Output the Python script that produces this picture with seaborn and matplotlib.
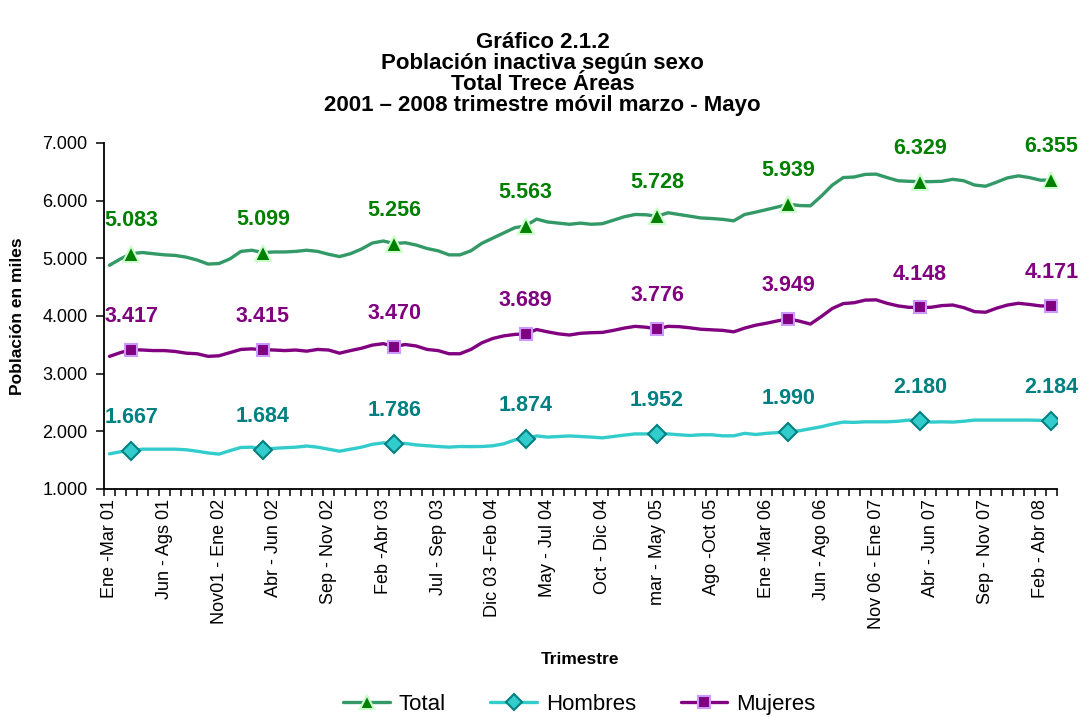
import matplotlib
matplotlib.use("Agg")
import matplotlib.pyplot as plt
from matplotlib.lines import Line2D
import numpy as np
import seaborn as sns

# Moving quarters: Ene-Mar 01 ... Mar-May 08 (87 points), values in thousands
total = [4880, 4990, 5083, 5100, 5080, 5060, 5050, 5020, 4970, 4900,
         4910, 4990, 5120, 5140, 5099, 5110, 5110, 5120, 5140, 5120,
         5070, 5030, 5080, 5160, 5265, 5300, 5256, 5270, 5230, 5170,
         5130, 5060, 5060, 5130, 5260, 5350, 5440, 5530, 5563, 5680,
         5630, 5610, 5590, 5610, 5590, 5600, 5660, 5720, 5760, 5755,
         5728, 5790, 5760, 5730, 5700, 5690, 5675, 5650, 5760, 5800,
         5845, 5890, 5939, 5915, 5910, 6080, 6270, 6400, 6410, 6455,
         6460, 6400, 6345, 6335, 6329, 6330, 6335, 6370, 6345, 6270,
         6250, 6320, 6395, 6430, 6400, 6355, 6355]

hombres = [1610, 1645, 1667, 1690, 1690, 1690, 1690, 1680, 1655, 1625,
           1605, 1665, 1720, 1725, 1684, 1705, 1715, 1725, 1745, 1725,
           1690, 1655, 1690, 1725, 1775, 1800, 1786, 1790, 1765, 1750,
           1737, 1726, 1737, 1735, 1737, 1749, 1783, 1850, 1874, 1920,
           1900, 1910, 1920, 1910, 1900, 1887, 1910, 1934, 1955, 1955,
           1952, 1955, 1940, 1928, 1940, 1940, 1922, 1922, 1965, 1945,
           1965, 1978, 1990, 2010, 2045, 2080, 2125, 2160, 2155, 2165,
           2165, 2165, 2175, 2195, 2180, 2160, 2165, 2160, 2175, 2195,
           2195, 2195, 2195, 2195, 2195, 2190, 2184]

mujeres = [3300, 3365, 3417, 3410, 3400, 3400, 3385, 3355, 3345, 3300,
           3310, 3365, 3420, 3430, 3415, 3410, 3400, 3410, 3390, 3420,
           3410, 3355, 3400, 3440, 3495, 3520, 3470, 3505, 3480, 3420,
           3400, 3345, 3345, 3420, 3535, 3610, 3655, 3680, 3689, 3765,
           3725, 3690, 3670, 3700, 3710, 3715, 3750, 3790, 3820, 3805,
           3776, 3820, 3815, 3795, 3770, 3760, 3750, 3725, 3790, 3840,
           3875, 3915, 3949, 3910, 3860, 3990, 4130, 4215, 4230, 4275,
           4280, 4220, 4175, 4150, 4148, 4150, 4180, 4190, 4145, 4075,
           4065, 4135, 4190, 4220, 4200, 4175, 4171]

# Mar-May of each year carries a marker and a data label
marker_idx = [2, 14, 26, 38, 50, 62, 74, 86]

tick_labels = ["Ene -Mar 01", "Jun - Ags 01", "Nov01 - Ene 02", "Abr - Jun 02",
               "Sep - Nov 02", "Feb -Abr 03", "Jul - Sep 03", "Dic 03 -Feb 04",
               "May - Jul 04", "Oct - Dic 04", "mar - May 05", "Ago -Oct 05",
               "Ene -Mar 06", "Jun - Ago 06", "Nov 06 - Ene 07", "Abr - Jun 07",
               "Sep - Nov 07", "Feb - Abr 08"]

sns.set_style("white")
plt.rcParams["font.family"] = ["Liberation Sans", "DejaVu Sans"]
plt.rcParams["text.color"] = "black"
plt.rcParams["axes.labelcolor"] = "black"
plt.rcParams["xtick.color"] = "black"
plt.rcParams["ytick.color"] = "black"

x = np.arange(len(total))

series = [
    # name, values, line colour, marker, size, face, edge, label colour
    ("Total", total, "#339966", "^", 11, "#008000", "#CCFFCC", "#008000"),
    ("Hombres", hombres, "#33CCCC", "D", 9, "#33CCCC", "#008080", "#008080"),
    ("Mujeres", mujeres, "#800080", "s", 9, "#800080", "#CC99FF", "#800080"),
]

fig, ax = plt.subplots(figsize=(10.85, 7.17), dpi=100)
fig.subplots_adjust(left=0.0959, right=0.974, bottom=0.318, top=0.8006)

handles = []
for name, vals, lc, mk, ms, mf, me, tc in series:
    sns.lineplot(x=x, y=vals, ax=ax, color=lc, linewidth=2.4, legend=False)
    vals = np.asarray(vals)
    ax.plot(x[marker_idx], vals[marker_idx], ls="none", marker=mk, ms=ms,
            mfc=mf, mec=me, mew=1.5, zorder=4)
    for i in marker_idx:
        ax.annotate(f"{vals[i]:,}".replace(",", "."), (i, vals[i]),
                    xytext=(0, 24), textcoords="offset points",
                    ha="center", va="center", fontsize=15.5,
                    fontweight="bold", color=tc)
    handles.append(Line2D([], [], color=lc, lw=2.4, marker=mk, ms=ms - 1,
                          mfc=mf, mec=me, mew=1.5, label=name))

ax.set_xlim(-0.5, len(total) - 0.5)
ax.set_ylim(1000, 7000)
ax.set_yticks(np.arange(1000, 7001, 1000))
ax.set_yticklabels([f"{v:,}".replace(",", ".") for v in range(1000, 7001, 1000)],
                   fontsize=13)
ax.set_xticks(np.arange(0, len(total), 5))
ax.set_xticklabels(tick_labels, rotation=90, fontsize=13)
ax.set_xticks(np.arange(-0.5, len(total), 1), minor=True)
ax.tick_params(axis="x", which="major", length=0, pad=7)
ax.tick_params(axis="x", which="minor", length=5, width=1.1, color="black",
               direction="out", bottom=True)
ax.tick_params(axis="y", length=6, width=1.1, color="black", direction="out",
               left=True, pad=6)

for side in ["top", "right"]:
    ax.spines[side].set_visible(False)
for side in ["left", "bottom"]:
    ax.spines[side].set_color("black")
    ax.spines[side].set_linewidth(1.3)

ax.set_xlabel("")
ax.set_ylabel("")

fig.text(0.5, 1 - 32 / 717,
         "Gráfico 2.1.2\nPoblación inactiva según sexo\nTotal Trece Áreas\n"
         "2001 – 2008 trimestre móvil marzo - Mayo",
         ha="center", va="top", fontsize=16, fontweight="bold",
         linespacing=1.0)
fig.text(18 / 1085, 1 - 316 / 717, "Población en miles", rotation=90,
         ha="center", va="center", fontsize=12.5, fontweight="bold")
fig.text(580 / 1085, 1 - 660 / 717, "Trimestre", ha="center", va="center",
         fontsize=12.5, fontweight="bold")

fig.legend(handles=handles, loc="center", bbox_to_anchor=(0.534, 0.018),
           ncol=3, frameon=False, fontsize=16, handlelength=2.1,
           columnspacing=2.0, handletextpad=0.4)

fig.savefig("out.png", dpi=100)
